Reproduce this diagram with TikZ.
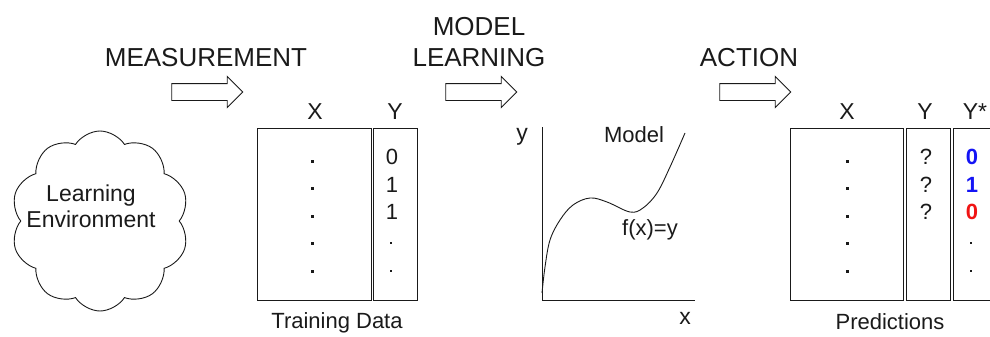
\documentclass[tikz,border=0pt]{standalone}
\usepackage{fontspec}
\setmainfont{Liberation Sans}
\usetikzlibrary{positioning,shapes.arrows,shapes.symbols}
\definecolor{cInk} {HTML}{1A1A1A}
\definecolor{cBlue}{HTML}{1414F5}
\definecolor{cRed} {HTML}{F01414}
\tikzset{
  stage/.style ={font=\fontsize{26}{31}\selectfont,align=center,text=cInk,inner sep=0pt},
  flow/.style  ={single arrow,draw=cInk,fill=white,line width=0.9pt,inner xsep=0pt,inner ysep=8pt,
                 minimum height=71,minimum width=30,single arrow head extend=7},
  tbl/.style   ={draw=cInk,line width=0.9pt,minimum height=172,inner sep=0pt,anchor=north west},
  hdr/.style   ={font=\fontsize{23}{26}\selectfont,text=cInk,inner sep=0pt},
  val/.style   ={font=\fontsize{22}{24}\selectfont,text=cInk,inner sep=0pt},
  capt/.style  ={font=\fontsize{22}{24}\selectfont,text=cInk,inner sep=0pt},
  dotx/.style  ={rectangle,fill=cInk,inner sep=0pt,minimum size=3},
  doty/.style  ={rectangle,fill=cInk,inner sep=0pt,minimum size=2},
  crv/.style   ={draw=cInk,line width=0.9pt},
}

\begin{document}
\begin{tikzpicture}[x=1pt,y=-1pt,every node/.style={outer sep=0pt}]
\useasboundingbox (0,0) rectangle (990,337);
\clip (0,0) rectangle (990,337);

% stages and the block arrows between them
\node[stage] (meas) at (206,58) {MEASUREMENT};
\node[stage] (mlearn) at (479,42) {MODEL\\LEARNING};
\node[stage] (act) at (749,58) {ACTION};
\node[flow] (f1) at (203,92) {};
\node[flow] (f2) at (477,92) {};
\node[flow] (f3) at (751,92) {};

% environment
\node[cloud,cloud puffs=10,cloud puff arc=115,aspect=1,draw=cInk,line width=0.9pt,
      minimum width=178,minimum height=180] (env) at (100,221) {};
\node[val,align=center,font=\fontsize{23}{26}\selectfont] (envtxt) at (91,206) {Learning\\Environment};

% training data
\node[tbl,minimum width=114] (tx) at (257,128) {};
\node[tbl,minimum width=44] (ty) at (373,128) {};
\node[hdr] (txh) at (315,112) {X};
\node[hdr] (tyh) at (395,112) {Y};
\node[capt] (tcap) at (337,323) {Training Data};
\foreach \y/\n in {161/1,188/2,216/3,243/4,271/5}{
  \node[dotx] (tdx\n) at (312,\y) {};
}
\foreach \y/\v/\n in {157/0/1,185/1/2,212/1/3}{
  \node[val] (tv\n) at (392,\y) {\v};
}
\node[doty] (tdy4) at (391,243) {};
\node[doty] (tdy5) at (391,271) {};

% model
\coordinate (ytop) at (542,127);
\coordinate (orig) at (542,300);
\coordinate (xend) at (695,300);
\draw[crv] (ytop) -- (orig) -- (xend);
\node[hdr] (ylab) at (522,137) {y};
\node[hdr] (xlab) at (685,318) {x};
\node[val] (mlab) at (634,135) {Model};
\node[val] (flab) at (650,230) {f(x)=y};
\draw[crv] plot[smooth,tension=0.6] coordinates {(542,293) (545,267) (550,240) (560,220)
  (573,205) (590,198) (607,202) (630,212) (643,208) (657,193) (670,167) (685,133)};

% predictions
\node[tbl,minimum width=113] (px) at (790,128) {};
\node[tbl,minimum width=44] (py) at (906,128) {};
\node[tbl,minimum width=50] (ps) at (953,128) {};
\node[hdr] (pxh) at (847,112) {X};
\node[hdr] (pyh) at (925,112) {Y};
\node[hdr] (psh) at (975,112) {Y*};
\node[capt] (pcap) at (890,322) {Predictions};
\foreach \y/\n in {161/1,188/2,216/3,243/4,271/5}{
  \node[dotx] (pdx\n) at (847,\y) {};
}
\foreach \y/\n in {157/1,185/2,212/3}{
  \node[val] (pq\n) at (926,\y) {?};
}
\node[val,font=\fontsize{22}{24}\bfseries,text=cBlue] (ps1) at (972,157) {0};
\node[val,font=\fontsize{22}{24}\bfseries,text=cBlue] (ps2) at (972,185) {1};
\node[val,font=\fontsize{22}{24}\bfseries,text=cRed] (ps3) at (972,212) {0};
\node[doty] (pds4) at (971,243) {};
\node[doty] (pds5) at (971,271) {};
\end{tikzpicture}
\end{document}
